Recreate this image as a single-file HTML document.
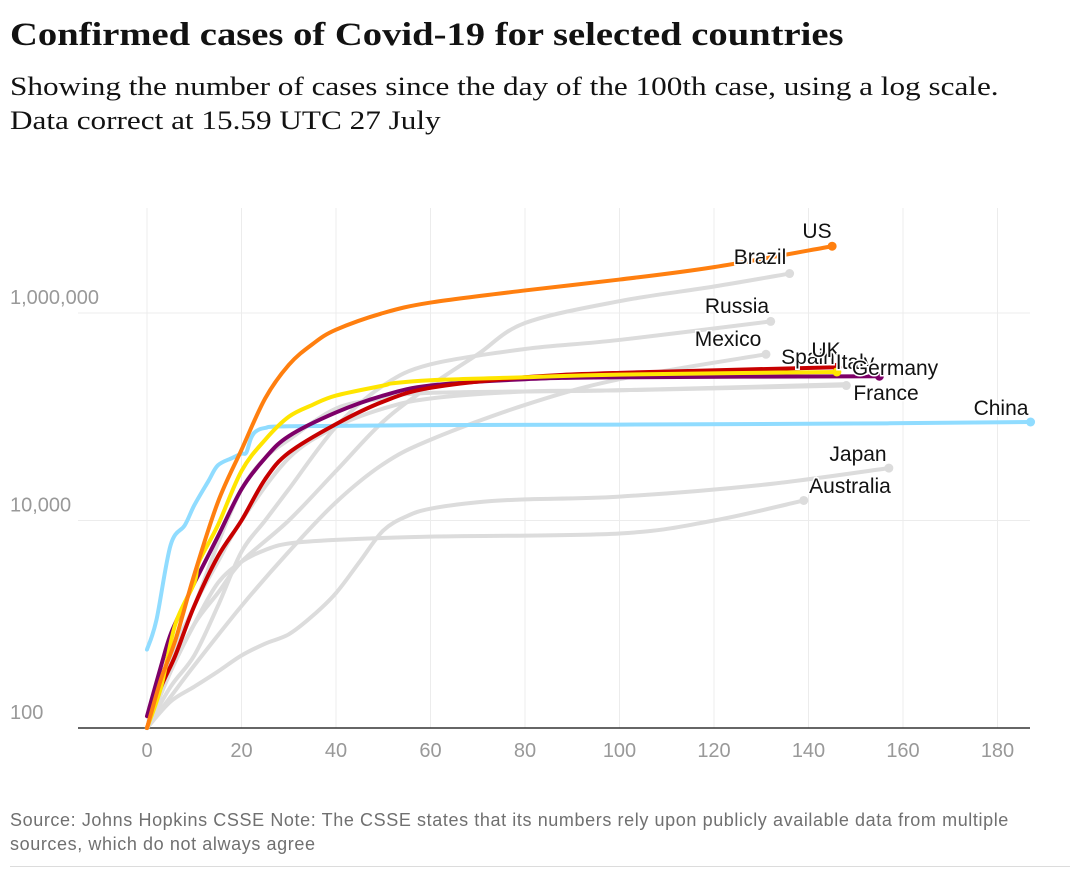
<!DOCTYPE html>
<html><head><meta charset="utf-8">
<style>
body{margin:0;background:#fff;width:1080px;height:879px;overflow:hidden;font-family:"Liberation Sans",sans-serif}
#title{position:absolute;left:10px;top:17px;font:bold 33px "Liberation Serif",serif;color:#121212;transform:scaleX(1.17);transform-origin:left top;white-space:nowrap}
#sub{position:absolute;left:10px;top:70px;font:26px "Liberation Serif",serif;color:#121212;line-height:34px;transform:scaleX(1.2);transform-origin:left top;white-space:nowrap}
#src{position:absolute;left:10px;top:808px;width:1060px;font:18px "Liberation Sans",sans-serif;letter-spacing:0.6px;color:#707070;line-height:24px}
#rule{position:absolute;left:10px;top:866px;width:1060px;border-top:1px solid #dcdcdc}
svg{position:absolute;left:0;top:0}
</style></head><body>
<div id="title">Confirmed cases of Covid-19 for selected countries</div>
<div id="sub">Showing the number of cases since the day of the 100th case, using a log scale.<br>Data correct at 15.59 UTC 27 July</div>
<svg id="chart" width="1080" height="879"></svg>
<div id="src">Source: Johns Hopkins CSSE Note: The CSSE states that its numbers rely upon publicly available data from multiple sources, which do not always agree</div>
<div id="rule"></div>
<script>
const xTicks=[0,20,40,60,80,100,120,140,160,180];
const yTicks=[100,10000,1000000];
const yTickLabels=["100","10,000","1,000,000"];
const days_US=[0,3,6,10,15,20,25,30,35,40,50,60,80,100,120,145];
const cases_US=[100,300,700,3000,15000,48000,150000,316000,500000,690000,1000000,1260000,1650000,2100000,2770000,4400000];
const days_Brazil=[0,5,10,15,20,30,40,50,60,70,80,100,120,136];
const cases_Brazil=[100,350,1000,2000,4000,10000,30000,90000,200000,400000,800000,1300000,1800000,2400000];
const days_Russia=[0,5,10,15,20,25,30,40,50,60,80,100,132];
const cases_Russia=[100,250,500,1500,5000,10000,20000,80000,200000,320000,450000,550000,830000];
const days_Mexico=[0,5,10,20,30,40,50,60,80,100,131];
const cases_Mexico=[100,200,400,1500,5000,15000,35000,60000,130000,230000,400000];
const days_France=[0,5,10,15,20,30,40,50,60,80,100,148];
const cases_France=[100,400,1500,4000,10000,40000,80000,120000,150000,175000,180000,200000];
const days_Germany=[0,5,10,15,20,25,30,40,50,60,100,148];
const cases_Germany=[100,500,1500,6000,20000,40000,60000,120000,150000,170000,180000,206000];
const days_Japan=[0,5,10,15,20,25,30,35,40,45,50,55,60,70,80,100,130,157];
const cases_Japan=[100,180,250,350,500,650,800,1200,2000,4000,8000,11000,13000,15000,16000,17000,22000,32000];
const days_Australia=[0,5,10,15,20,25,30,40,60,100,120,139];
const cases_Australia=[100,350,1000,2500,4000,5200,6000,6500,7000,7500,10000,15600];
const days_China=[0,2,5,8,10,13,15,18,20,21,22,23,25,30,60,100,150,187];
const cases_China=[570,1100,5800,9000,14000,24000,34000,40000,44000,45000,62000,72000,78000,81000,83000,84000,86000,89000];
const days_Red=[0,3,6,10,15,20,25,30,40,50,60,80,100,146];
const cases_Red=[100,250,500,1500,4500,10000,25000,45000,85000,140000,190000,240000,265000,300000];
const days_Yellow=[0,3,6,10,11,15,20,25,30,35,40,50,52,60,80,100,146];
const cases_Yellow=[100,250,1000,2500,4000,9000,30000,60000,100000,130000,160000,200000,210000,225000,240000,255000,270000];
const days_Purple=[0,3,5,8,10,15,20,25,30,40,50,60,80,100,155];
const cases_Purple=[130,400,800,1600,2500,7000,20000,40000,65000,110000,160000,200000,230000,240000,246000];

const X0=147,XS=4.725,Y100=728,DEC=103.75;
const xs=d=>X0+d*XS;
const ys=v=>Y100-(Math.log10(v)-2)*DEC;
const svg=document.getElementById('chart');
const NS='http://www.w3.org/2000/svg';
function mk(t,a){const e=document.createElementNS(NS,t);for(const k in a)e.setAttribute(k,a[k]);svg.appendChild(e);return e;}
xTicks.forEach(t=>{
 const l=mk('line',{x1:xs(t),x2:xs(t),y1:208,y2:728,stroke:'#ececec','stroke-width':1});
 
 
 const tx=mk('text',{x:xs(t),y:757,'text-anchor':'middle','font-size':20,fill:'#999','font-family':'Liberation Sans, sans-serif'});
 tx.textContent=t;
 
 
});
yTicks.forEach((t,i)=>{
 if(i>0){const l=mk('line',{x1:78,x2:1030,y1:ys(t),y2:ys(t),stroke:'#ececec','stroke-width':1});
 
 }
 const tx=mk('text',{x:10,y:ys(t)-9,'font-size':20,fill:'#999','font-family':'Liberation Sans, sans-serif'});
 tx.textContent=yTickLabels[i];
 
 
});
const ax=mk('line',{x1:78,x2:1030,y1:728,y2:728,stroke:'#333','stroke-width':1.5});


function path(d,c){
 const p=d.map((x,i)=>[xs(x),ys(c[i])]);
 let s='M'+p[0][0]+','+p[0][1];
 for(let i=0;i<p.length-1;i++){
  const p0=p[i-1]||p[i],p1=p[i],p2=p[i+1],p3=p[i+2]||p2;
  s+=` C${p1[0]+(p2[0]-p0[0])/6},${p1[1]+(p2[1]-p0[1])/6} ${p2[0]-(p3[0]-p1[0])/6},${p2[1]-(p3[1]-p1[1])/6} ${p2[0]},${p2[1]}`;
 }
 return s;
}
function series(name,d,c,col,dot){
 const e=mk('path',{d:path(d,c),fill:'none',stroke:col,'stroke-width':4,'stroke-linejoin':'round','stroke-linecap':'round'});
 
 
 if(dot){const ci=mk('circle',{cx:xs(d[d.length-1]),cy:ys(c[c.length-1]),r:4.5,fill:col});
 
 }
}
const G='#dcdcdc';
series('Brazil',days_Brazil,cases_Brazil,G,1);
series('Russia',days_Russia,cases_Russia,G,1);
series('Mexico',days_Mexico,cases_Mexico,G,1);
series('France',days_France,cases_France,G,1);
series('Germany',days_Germany,cases_Germany,G,0);
series('Japan',days_Japan,cases_Japan,G,1);
series('Australia',days_Australia,cases_Australia,G,1);
series('China',days_China,cases_China,'#90dcff',1);
series('Purple',days_Purple,cases_Purple,'#7d0068',1);
series('Red',days_Red,cases_Red,'#c70000',1);
series('Yellow',days_Yellow,cases_Yellow,'#ffe500',1);
series('US',days_US,cases_US,'#ff7f0f',1);
const labels=[["US",817,238],["Brazil",760,264],["Russia",737,313],["Mexico",728,346],["Spain",808,364],["UK",826,357],["Italy",855,369],["Germany",895,375],["France",886,400],["China",1001,415],["Japan",858,461],["Australia",850,493]];
labels.forEach(l=>{
 const t=mk('text',{x:l[1],y:l[2],'text-anchor':'middle','font-size':21,fill:'#121212',stroke:'#fff','stroke-width':3,'paint-order':'stroke','font-family':'Liberation Sans, sans-serif'});
 t.textContent=l[0];
 
 
});
</script>
</body></html>
